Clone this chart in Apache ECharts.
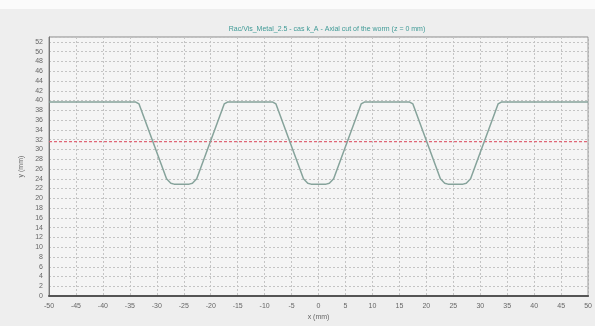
<!DOCTYPE html>
<html>
<head>
<meta charset="utf-8">
<script src="https://cdn.jsdelivr.net/npm/echarts@6/dist/echarts.min.js"></script>
<style>html,body{margin:0;padding:0;background:#eeeeee;}#c{width:595px;height:326px;}</style>
</head>
<body>
<div id="c"></div>
<script>
const titleText = 'Rac/Vis_Metal_2.5 - cas k_A - Axial cut of the worm (z = 0 mm)';
const xName = 'x (mm)';
const yName = 'y (mm)';
const profileX = [-50, -33.9, -33.3, -28.2, -27.4, -26.8, -24.0, -23.4, -22.6, -17.5, -16.9, -8.5, -7.9, -2.8, -2.0, -1.4, 1.4, 2.0, 2.8, 7.9, 8.5, 16.9, 17.5, 22.6, 23.4, 24.0, 26.8, 27.4, 28.2, 33.3, 33.9, 50];
const profileY = [39.7, 39.7, 39.3, 24.0, 23.1, 22.9, 22.9, 23.1, 24.0, 39.3, 39.7, 39.7, 39.3, 24.0, 23.1, 22.9, 22.9, 23.1, 24.0, 39.3, 39.7, 39.7, 39.3, 24.0, 23.1, 22.9, 22.9, 23.1, 24.0, 39.3, 39.7, 39.7];
const meanX = [-50, 50];
const meanY = [31.6, 31.6];

const chart = echarts.init(document.getElementById('c'), null, {renderer: 'canvas'});
const font = 'Liberation Sans, Arial, sans-serif';
chart.setOption({
  backgroundColor: '#eeeeee',
  animation: false,
  graphic: [{type: 'rect', shape: {x: 0, y: 0, width: 595, height: 9}, style: {fill: '#fbfbfb'}, z: -1}],
  title: {
    text: titleText, left: 322, top: 21, textAlign: 'center',
    textStyle: {fontSize: 7, fontWeight: 'normal', color: '#3f9a96', fontFamily: font}
  },
  grid: {left: 49, right: 0, top: 37, bottom: 28, show: true, backgroundColor: '#f5f5f5', borderColor: '#8a8a8a', borderWidth: 1},
  xAxis: {
    type: 'value', min: -50, max: 50, interval: 5,
    name: xName, nameLocation: 'middle', nameGap: 17,
    nameTextStyle: {fontSize: 7, color: '#666', fontFamily: font},
    axisLine: {show: true, onZero: false, lineStyle: {color: '#555', width: 2}},
    axisTick: {show: false},
    axisLabel: {fontSize: 7, color: '#666', margin: 6, fontFamily: font},
    splitLine: {show: true, lineStyle: {color: '#c4c4c4', type: [2, 2], width: 1}}
  },
  yAxis: {
    type: 'value', min: 0, max: 53, interval: 2,
    name: yName, nameLocation: 'middle', nameGap: 20,
    nameTextStyle: {fontSize: 7, color: '#666', fontFamily: font},
    axisLine: {show: true, onZero: false, lineStyle: {color: '#777', width: 1}},
    axisTick: {show: false},
    axisLabel: {fontSize: 7, color: '#666', margin: 6, showMaxLabel: false, fontFamily: font},
    splitLine: {show: true, lineStyle: {color: '#c4c4c4', type: [2, 2], width: 1}}
  },
  series: [
    {
      type: 'line', symbol: 'none', silent: true, z: 3,
      data: meanX.map((x, i) => [x, meanY[i]]),
      lineStyle: {color: '#e06676', width: 1.3, type: [3, 2], opacity: 1}
    },
    {
      type: 'line', symbol: 'none', silent: true, z: 4,
      data: profileX.map((x, i) => [x, profileY[i]]),
      lineStyle: {color: '#86a39b', width: 1.5}
    }
  ]
});
</script>
</body>
</html>
